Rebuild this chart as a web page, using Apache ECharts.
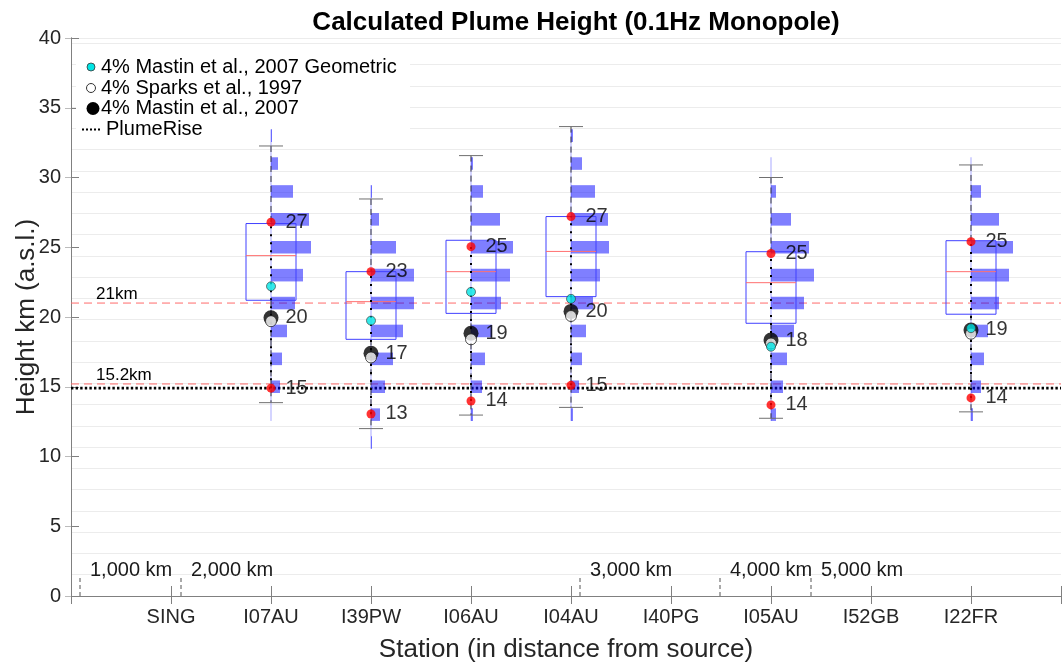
<!DOCTYPE html>
<html>
<head>
<meta charset="utf-8">
<title>Calculated Plume Height</title>
<script src="https://cdn.jsdelivr.net/npm/echarts@6/dist/echarts.min.js"></script>
<style>
html, body { margin: 0; padding: 0; background: #fff; }
#chart { width: 1062px; height: 663px; }
</style>
</head>
<body>
<div id="chart"></div>
<script>
var stations = ['SING', 'I07AU', 'I39PW', 'I06AU', 'I04AU', 'I40PG', 'I05AU', 'I52GB', 'I22FR'];
var boxStations = ['I07AU', 'I39PW', 'I06AU', 'I04AU', 'I05AU', 'I22FR'];
var whiskerLow = [13.86, 12.0, 12.97, 13.52, 12.74, 13.2];
var boxLow = [21.2, 18.4, 20.26, 21.46, 19.55, 20.2];
var boxMedian = [24.4, 21.1, 23.25, 24.7, 22.46, 23.25];
var boxHigh = [26.7, 23.25, 25.5, 27.2, 24.68, 25.47];
var whiskerHigh = [32.26, 28.46, 31.57, 33.65, 30.0, 30.9];
var plumeRiseHigh = [26.8, 23.25, 25.04, 27.2, 24.55, 25.4];
var plumeRiseLow = [14.9, 13.05, 13.98, 15.1, 13.7, 14.2];
var mastinGeometric = [22.2, 19.74, 21.8, 21.3, 17.87, 19.2];
var sparks1997 = [19.7, 17.1, 18.4, 20.07, 18.1, 18.8];
var mastin2007 = [19.95, 17.4, 18.83, 20.4, 18.35, 19.07];

// histogram of heights, 2 km bins (null = outside the histogram)
var binCenters = [11, 13, 15, 17, 19, 21, 23, 25, 27, 29, 31, 33];
var histI07AU = [null, 0, 9, 11, 16, 24, 32, 40, 38, 22, 7, 1];
var histI39PW = [1, 9, 14, 22, 32, 43, 43, 25, 8, 1, null, null];
var histI06AU = [null, 2, 11, 14, 21, 30, 39, 42, 29, 12, 2, null];
var histI04AU = [null, 2, 8, 11, 15, 22, 29, 38, 37, 24, 11, 2];
var histI05AU = [null, 5, 12, 16, 23, 33, 43, 38, 20, 5, 0, null];
var histI22FR = [null, 2, 10, 13, 17, 28, 38, 42, 28, 10, 0, null];

var refLevels = [21, 15.2];
var refLabels = ['21km', '15.2km'];
var plumeRiseLevel = 14.9;
var distanceLabels = ['1,000 km', '2,000 km', '3,000 km', '4,000 km', '5,000 km'];
var distancePos = [0.09, 1.1, 5.09, 6.49, 7.4];
var legendNames = ['4% Mastin et al., 2007 Geometric', '4% Sparks et al., 1997', '4% Mastin et al., 2007', 'PlumeRise'];

var FONT = '"Liberation Sans", Arial, Helvetica, sans-serif';
var AXIS = '#808080';
var XMAX = 9.9;
var BOX_HALF = 0.25, CAP_HALF = 0.12, BAR_HALF = 0.45, COUNT_SCALE = 0.01;

var histograms = [histI07AU, histI39PW, histI06AU, histI04AU, histI05AU, histI22FR];
var stationX = boxStations.map(function (s) { return stations.indexOf(s) + 1; });

var histData = [], baseData = [], boxData = [], rangeData = [];
var blackData = [], whiteData = [], cyanData = [], redData = [];
for (var i = 0; i < boxStations.length; i++) {
    var x = stationX[i], h = histograms[i], lo = null, hi = null;
    for (var j = 0; j < binCenters.length; j++) {
        if (h[j] === null) continue;
        if (lo === null) lo = binCenters[j];
        hi = binCenters[j];
        if (h[j] > 0) histData.push([x, binCenters[j], h[j]]);
    }
    baseData.push([x, lo - BAR_HALF, hi + BAR_HALF]);
    boxData.push([x, whiskerLow[i], boxLow[i], boxMedian[i], boxHigh[i], whiskerHigh[i]]);
    rangeData.push([x, plumeRiseLow[i], plumeRiseHigh[i]]);
    blackData.push([x, mastin2007[i]]);
    whiteData.push([x, sparks1997[i]]);
    cyanData.push([x, mastinGeometric[i]]);
    redData.push([x, plumeRiseHigh[i]]);
    redData.push([x, plumeRiseLow[i]]);
}
var refData = refLevels.map(function (v, k) { return [v, k]; });
var distData = distancePos.map(function (v, k) { return [v, k]; });

function valueLabel(dist) {
    return {
        show: true, position: 'right', distance: dist,
        formatter: function (p) { return String(Math.round(p.value[1])); },
        fontSize: 20, fontFamily: FONT, color: '#000'
    };
}
function legendText(k, x, y) {
    return { type: 'text', x: x, y: y, z: 1,
             style: { text: legendNames[k], fontSize: 20, fontFamily: FONT, fill: '#000', verticalAlign: 'middle' } };
}

var chart = echarts.init(document.getElementById('chart'));
var option = {
    animation: false,
    backgroundColor: '#fff',
    title: {
        text: 'Calculated Plume Height (0.1Hz Monopole)',
        left: 571, top: 5, textAlign: 'center',
        textStyle: { fontSize: 26, fontWeight: 'bold', fontFamily: FONT, color: '#000' }
    },
    grid: { left: 71, right: 1, top: 38, bottom: 67, outerBoundsMode: 'none' },
    xAxis: [{
        type: 'value', position: 'bottom', min: 0, max: XMAX, interval: 1,
        axisLine: { show: true, lineStyle: { color: AXIS } },
        axisTick: { show: true, inside: true, length: 10, lineStyle: { color: AXIS } },
        axisLabel: {
            margin: 11, fontSize: 20, fontFamily: FONT, color: '#262626',
            formatter: function (v) { return stations[v - 1] || ''; }
        },
        splitLine: { show: false },
        name: 'Station (in distance from source)', nameLocation: 'middle', nameGap: 41,
        nameTextStyle: { fontSize: 26, fontFamily: FONT, color: '#262626' }
    }, {
        type: 'value', position: 'top', min: 0, max: XMAX, interval: 1,
        axisLine: { show: true, lineStyle: { color: AXIS } },
        axisTick: { show: true, inside: true, length: 8, lineStyle: { color: AXIS } },
        axisLabel: { show: false }, splitLine: { show: false }
    }],
    yAxis: [{
        type: 'value', position: 'left', min: 0, max: 40, interval: 5,
        axisLine: { show: true, lineStyle: { color: AXIS } },
        axisTick: { show: true, inside: true, length: 8, lineStyle: { color: AXIS } },
        axisLabel: { margin: 10, fontSize: 20, fontFamily: FONT, color: '#262626' },
        splitLine: { show: false },
        name: 'Height km (a.s.l.)', nameLocation: 'middle', nameGap: 31, nameMoveOverlap: false,
        nameTextStyle: { fontSize: 26, fontFamily: FONT, color: '#262626' }
    }, {
        type: 'value', position: 'right', min: 0, max: 40, interval: 5,
        axisLine: { show: true, lineStyle: { color: AXIS } },
        axisTick: { show: true, inside: true, length: 6, lineStyle: { color: '#bbb' } },
        axisLabel: { show: false }, splitLine: { show: false }
    }, {
        // faint grid every 5,000 ft
        type: 'value', position: 'left', min: 0, max: 40 / 1.524, interval: 1,
        axisLine: { show: false }, axisTick: { show: false }, axisLabel: { show: false },
        splitLine: { show: true, lineStyle: { color: '#ececec', width: 1 } }
    }],
    graphic: [
        { type: 'rect', z: 1, shape: { x: 76, y: 54, width: 334, height: 87 }, style: { fill: '#fff' } },
        { type: 'circle', z: 1, shape: { cx: 91, cy: 67, r: 4 }, style: { fill: '#00e5e5', stroke: '#333', lineWidth: 0.8 } },
        { type: 'circle', z: 1, shape: { cx: 91, cy: 88, r: 4.5 }, style: { fill: '#fff', stroke: '#333', lineWidth: 1 } },
        { type: 'circle', z: 1, shape: { cx: 93, cy: 108.5, r: 6.5 }, style: { fill: '#000' } },
        { type: 'line', z: 1, shape: { x1: 82, y1: 129.5, x2: 101, y2: 129.5 }, style: { stroke: '#000', lineWidth: 2, lineDash: [2, 2] } },
        legendText(0, 101, 67),
        legendText(1, 101, 88),
        legendText(2, 101, 108.5),
        legendText(3, 106, 129.5)
    ],
    series: [{
        // red dashed reference levels
        type: 'custom', silent: true, data: refData,
        renderItem: function (params, api) {
            var v = api.value(0), k = api.value(1);
            var a = api.coord([0, v]), b = api.coord([XMAX, v]), t = api.coord([0.25, v]);
            return { type: 'group', children: [
                { type: 'line', shape: { x1: a[0], y1: a[1], x2: b[0], y2: b[1] },
                  style: { stroke: '#ff6a6a', lineWidth: 1, lineDash: [8, 5] } },
                { type: 'text', x: t[0], y: t[1] - 9,
                  style: { text: refLabels[k], fontSize: 17, fontFamily: FONT, fill: '#000', verticalAlign: 'middle' } }
            ] };
        }
    }, {
        // PlumeRise level
        type: 'custom', silent: true, data: [[plumeRiseLevel]],
        renderItem: function (params, api) {
            var a = api.coord([0, api.value(0)]), b = api.coord([XMAX, api.value(0)]);
            return { type: 'line', shape: { x1: a[0], y1: a[1], x2: b[0], y2: b[1] },
                     style: { stroke: '#000', lineWidth: 2.6, lineDash: [2.4, 2.2] } };
        }
    }, {
        // distance from source markers
        type: 'custom', silent: true, data: distData,
        renderItem: function (params, api) {
            var p = api.value(0), k = api.value(1);
            var a = api.coord([p, 0]), b = api.coord([p, 1.5]), t = api.coord([p, 1.86]);
            return { type: 'group', children: [
                { type: 'line', shape: { x1: a[0], y1: a[1], x2: b[0], y2: b[1] },
                  style: { stroke: '#555', lineWidth: 1, lineDash: [4, 3] } },
                { type: 'text', x: t[0] + 10, y: t[1],
                  style: { text: distanceLabels[k], fontSize: 20, fontFamily: FONT, fill: '#1a1a1a', verticalAlign: 'middle' } }
            ] };
        }
    }, {
        // histogram baselines
        type: 'custom', silent: true, data: baseData,
        renderItem: function (params, api) {
            var a = api.coord([api.value(0), api.value(1)]), b = api.coord([api.value(0), api.value(2)]);
            return { type: 'line', shape: { x1: a[0], y1: a[1], x2: b[0], y2: b[1] },
                     style: { stroke: '#a9a9ff', lineWidth: 1 } };
        }
    }, {
        // histograms
        type: 'custom', silent: true, data: histData,
        renderItem: function (params, api) {
            var x = api.value(0), y = api.value(1), c = api.value(2);
            var a = api.coord([x, y + BAR_HALF]), b = api.coord([x + c * COUNT_SCALE, y - BAR_HALF]);
            return { type: 'rect', shape: { x: a[0], y: a[1], width: b[0] - a[0], height: b[1] - a[1] },
                     style: { fill: 'rgba(0,0,255,0.5)' } };
        }
    }, {
        // box plots
        type: 'custom', silent: true, data: boxData,
        renderItem: function (params, api) {
            var x = api.value(0);
            var wl = api.coord([x, api.value(1)]), q1 = api.coord([x, api.value(2)]);
            var md = api.coord([x, api.value(3)]), q3 = api.coord([x, api.value(4)]);
            var wh = api.coord([x, api.value(5)]);
            var l = api.coord([x - BOX_HALF, 0])[0], r = api.coord([x + BOX_HALF, 0])[0];
            var cl = api.coord([x - CAP_HALF, 0])[0], cr = api.coord([x + CAP_HALF, 0])[0];
            var dash = { stroke: '#3a3a3a', lineWidth: 1, lineDash: [6, 4] };
            var cap = { stroke: '#707070', lineWidth: 1 };
            return { type: 'group', children: [
                { type: 'line', shape: { x1: wh[0], y1: wh[1], x2: q3[0], y2: q3[1] }, style: dash },
                { type: 'line', shape: { x1: q1[0], y1: q1[1], x2: wl[0], y2: wl[1] }, style: dash },
                { type: 'line', shape: { x1: cl, y1: wh[1], x2: cr, y2: wh[1] }, style: cap },
                { type: 'line', shape: { x1: cl, y1: wl[1], x2: cr, y2: wl[1] }, style: cap },
                { type: 'rect', shape: { x: l, y: q3[1], width: r - l, height: q1[1] - q3[1] },
                  style: { fill: 'transparent', stroke: '#4040ff', lineWidth: 1 } },
                { type: 'line', shape: { x1: l, y1: md[1], x2: r, y2: md[1] },
                  style: { stroke: '#ff7070', lineWidth: 1 } }
            ] };
        }
    }, {
        name: legendNames[2], type: 'scatter', silent: true, data: blackData,
        symbol: 'circle', symbolSize: 15, itemStyle: { color: '#000' },
        label: valueLabel(7)
    }, {
        name: legendNames[1], type: 'scatter', silent: true, data: whiteData,
        symbol: 'circle', symbolSize: 11, itemStyle: { color: '#fff', borderColor: '#222', borderWidth: 1 }
    }, {
        name: legendNames[0], type: 'scatter', silent: true, data: cyanData,
        symbol: 'circle', symbolSize: 9, itemStyle: { color: '#00e5e5', borderColor: '#333', borderWidth: 0.8 }
    }, {
        // PlumeRise range at each station
        type: 'custom', silent: true, data: rangeData,
        renderItem: function (params, api) {
            var a = api.coord([api.value(0), api.value(1)]), b = api.coord([api.value(0), api.value(2)]);
            return { type: 'line', shape: { x1: a[0], y1: a[1], x2: b[0], y2: b[1] },
                     style: { stroke: '#000', lineWidth: 2, lineDash: [2, 6] } };
        }
    }, {
        type: 'scatter', silent: true, data: redData,
        symbol: 'circle', symbolSize: 9, itemStyle: { color: '#ff0000' },
        label: valueLabel(10)
    }]
};
chart.setOption(option);
</script>
</body>
</html>
